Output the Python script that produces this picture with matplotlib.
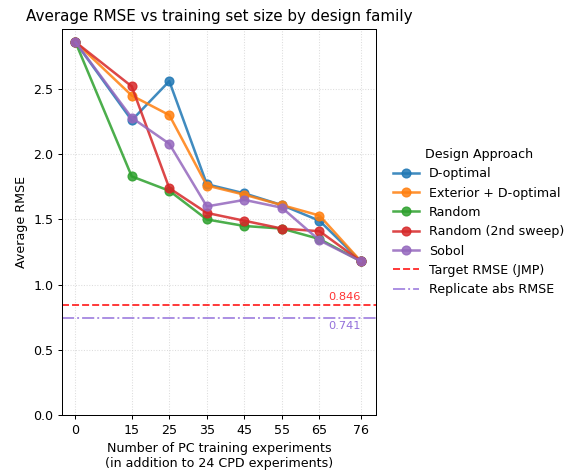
import matplotlib.pyplot as plt

sizes = [0, 15, 25, 35, 45, 55, 65, 76]

d_optimal = [2.86, 2.26, 2.56, 1.77, 1.70, 1.61, 1.49, 1.18]
exterior_d_opt = [2.86, 2.45, 2.30, 1.76, 1.69, 1.61, 1.53, 1.18]
random_1 = [2.86, 1.83, 1.72, 1.50, 1.45, 1.43, 1.35, 1.18]
random_2 = [2.86, 2.52, 1.74, 1.55, 1.49, 1.43, 1.41, 1.18]
sobol = [2.86, 2.28, 2.08, 1.60, 1.65, 1.59, 1.34, 1.18]

target_rmse = 0.846
replicate_rmse = 0.741

series = [
    ("D-optimal", d_optimal, "tab:blue"),
    ("Exterior + D-optimal", exterior_d_opt, "tab:orange"),
    ("Random", random_1, "tab:green"),
    ("Random (2nd sweep)", random_2, "tab:red"),
    ("Sobol", sobol, "tab:purple"),
]

# figure drawn at 91 dpi so it comes out 566x475 px
fig, ax = plt.subplots(figsize=(566 / 91, 475 / 91), dpi=91)

for name, vals, col in series:
    ax.plot(sizes, vals, marker='o', markersize=7, linewidth=2, color=col, alpha=0.85, label=name)

ax.axhline(target_rmse, color='red', linestyle='--', linewidth=1.5, alpha=0.8, label="Target RMSE (JMP)")
ax.axhline(replicate_rmse, color='mediumpurple', linestyle='-.', linewidth=1.5, alpha=0.8, label="Replicate abs RMSE")

ax.text(76, target_rmse + 0.02, f"{target_rmse:.3f}", color='red', alpha=0.8, ha='right', va='bottom', fontsize=9)
ax.text(76, replicate_rmse - 0.02, f"{replicate_rmse:.3f}", color='mediumpurple', ha='right', va='top', fontsize=9)

ax.set_xticks(sizes)
ax.set_ylim(0, 2.96)
ax.set_xlim(-3.5, 80)
ax.grid(True, linestyle=':', color='lightgray', alpha=0.8)

ax.set_title("Average RMSE vs training set size by design family", fontsize=12)
ax.set_xlabel("Number of PC training experiments\n(in addition to 24 CPD experiments)")
ax.set_ylabel("Average RMSE")

ax.legend(title="Design Approach", loc='center left', bbox_to_anchor=(1.02, 0.5), frameon=False)

fig.subplots_adjust(left=0.110, right=0.664, bottom=0.126, top=0.939)
fig.savefig("out.png", dpi=91)
